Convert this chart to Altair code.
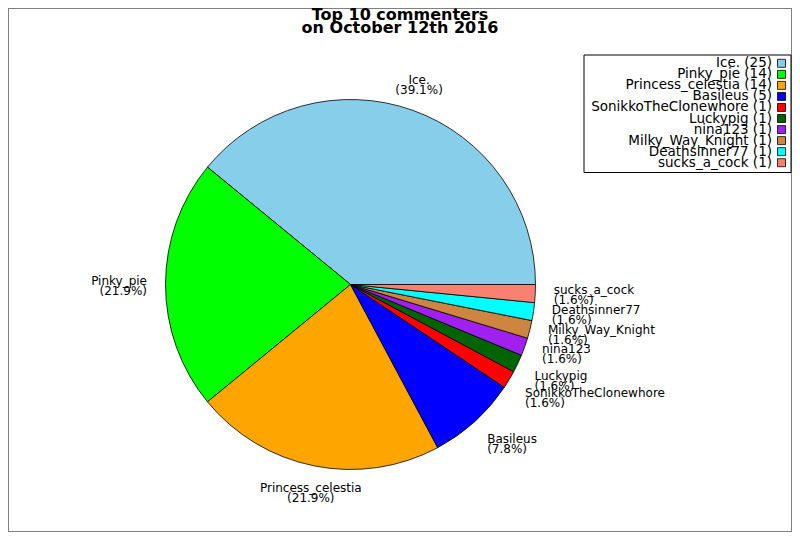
import math
import altair as alt
import pandas as pd

# ---- data ----
names = ["Ice.", "Pinky_pie", "Princess_celestia", "Basileus", "SonikkoTheClonewhore",
         "Luckypig", "nina123", "Milky_Way_Knight", "Deathsinner77", "sucks_a_cock"]
counts = [25, 14, 14, 5, 1, 1, 1, 1, 1, 1]
colors = ["#87CEEB", "#00FF00", "#FFA500", "#0000FF", "#FF0000",
          "#006400", "#A020F0", "#CD853F", "#00FFFF", "#FA8072"]
title_lines = ["Top 10 commenters", "on October 12th 2016"]

df = pd.DataFrame({"name": names, "count": counts, "idx": list(range(len(names)))})
total = sum(counts)

W, H = 784, 524
CX, CY, R = 342.5, 276.5, 185
LR = R * 1.1
FONT = "DejaVu Sans"

theta_scale = alt.Scale(domain=[0, total], range=[math.pi / 2, math.pi / 2 + 2 * math.pi])
color_scale = alt.Scale(domain=names, range=colors)

base = alt.Chart(df)

pie = base.mark_arc(radius=R, stroke="black", strokeWidth=0.8).encode(
    theta=alt.Theta("count:Q", stack=True, scale=theta_scale),
    order=alt.Order("idx:Q", sort="descending"),
    color=alt.Color("name:N", scale=color_scale, legend=None),
    x=alt.value(CX),
    y=alt.value(CY),
)

lab_base = base.transform_window(
    cum="sum(count)", sort=[alt.SortField("idx", order="descending")], frame=[None, 0]
).transform_calculate(
    mid="datum.cum - datum.count/2",
    ang=f"PI/2 + 2*PI*(datum.cum - datum.count/2)/{total}",
    label=f"datum.name + '\\n(' + format(100*datum.count/{total}, '.1f') + '%)'",
).transform_calculate(
    ha="sin(datum.ang) > 0.383 ? 'left' : (sin(datum.ang) < -0.383 ? 'right' : 'center')",
    va="-cos(datum.ang) > 0.383 ? 'top' : (-cos(datum.ang) < -0.383 ? 'bottom' : 'middle')",
)

va_shift = {"top": -1, "middle": -4, "bottom": -6}
labels = []
for ha in ["left", "center", "right"]:
    for va in ["top", "middle", "bottom"]:
        labels.append(
            lab_base.transform_filter(f"datum.ha == '{ha}' && datum.va == '{va}'")
            .mark_text(radius=LR, align=ha, baseline=va, fontSize=12, lineHeight=10,
                       lineBreak="\n", font=FONT, color="black", dy=va_shift[va])
            .encode(
                theta=alt.Theta("mid:Q", stack=False, scale=theta_scale),
                text="label:N",
                x=alt.value(CX),
                y=alt.value(CY),
            )
        )

leg_y = alt.Y("name:N", sort=names,
              scale=alt.Scale(type="point", range=[55.3, 154.7], padding=0), axis=None)

leg_frame = alt.Chart(pd.DataFrame({"k": [0]})).mark_rect(
    filled=False, stroke="black", strokeWidth=1
).encode(x=alt.value(576), x2=alt.value(783), y=alt.value(47), y2=alt.value(164.5))

leg_text = base.transform_calculate(
    leg="datum.name + ' (' + datum.count + ')'"
).mark_text(align="right", baseline="middle", fontSize=13.5, font=FONT, color="black").encode(
    x=alt.value(764), y=leg_y, text="leg:N"
)

leg_sw = base.mark_square(size=64, opacity=1, stroke="black", strokeWidth=0.8).encode(
    x=alt.value(773.5), y=leg_y,
    fill=alt.Fill("name:N", scale=color_scale, legend=None),
)

chart = alt.layer(pie, *labels, leg_frame, leg_text, leg_sw).properties(
    width=W, height=H, padding=0, autosize="none",
    title=alt.TitleParams(title_lines, fontSize=16, font=FONT, fontWeight="bold",
                          lineHeight=13, anchor="middle", frame="group", offset=-28,
                          color="black"),
).configure_view(stroke="#808080", strokeWidth=2)

chart.save("out.html", embed_options={"renderer": "svg", "actions": False})
